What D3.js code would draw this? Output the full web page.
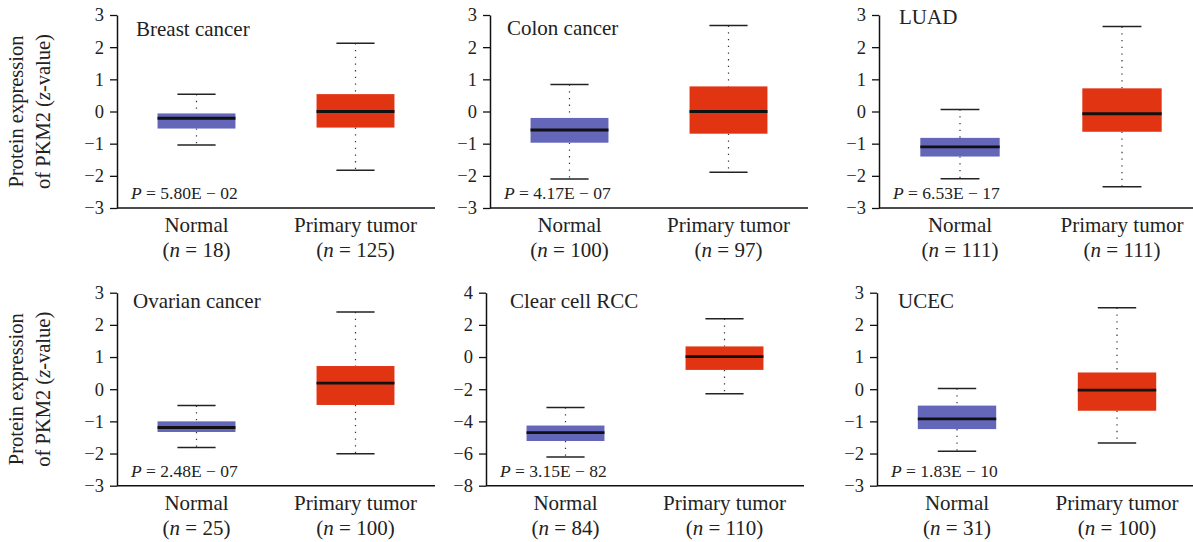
<!DOCTYPE html>
<html lang="en">
<head>
  <meta charset="utf-8">
  <title>PKM2 protein expression</title>
  <script src="https://cdn.jsdelivr.net/npm/d3@7"></script>
  <style>
    body { margin: 0; background: #fff; }
    svg { display: block; font-family: "Liberation Serif", "DejaVu Serif", serif; }
  </style>
</head>
<body>
  <script>
    // values (box = [min, q1, median, q3, max])
    var panelTitles = ["Breast cancer", "Colon cancer", "LUAD", "Ovarian cancer", "Clear cell RCC", "UCEC"];
    var pValues = ["5.80E − 02", "4.17E − 07", "6.53E − 17", "2.48E − 07", "3.15E − 82", "1.83E − 10"];
    var groups = ["Normal", "Primary tumor"];
    var normalN = [18, 100, 111, 25, 84, 31];
    var tumorN = [125, 97, 111, 100, 110, 100];
    var normalStats = [
      [-1.04, -0.53, -0.21, -0.06, 0.54],
      [-2.10, -0.97, -0.575, -0.20, 0.84],
      [-2.09, -1.40, -1.10, -0.82, 0.06],
      [-1.81, -1.33, -1.19, -1.00, -0.51],
      [-6.21, -5.22, -4.70, -4.26, -3.14],
      [-1.93, -1.24, -0.92, -0.51, 0.02]
    ];
    var tumorStats = [
      [-1.83, -0.50, 0.00, 0.54, 2.12],
      [-1.89, -0.69, 0.00, 0.78, 2.67],
      [-2.34, -0.63, -0.07, 0.72, 2.64],
      [-2.01, -0.49, 0.19, 0.72, 2.40],
      [-2.29, -0.80, 0.03, 0.66, 2.38],
      [-1.67, -0.67, -0.03, 0.52, 2.53]
    ];
    var yDomains = [[-3, 3], [-3, 3], [-3, 3], [-3, 3], [-8, 4], [-3, 3]];

    var colors = { "Normal": "#6366b9", "Primary tumor": "#e03413" };

    // plot-area layout of each panel
    var panelLeft = [117, 490, 879, 117, 486, 877];
    var panelWidth = [318, 318, 324, 318, 318, 320];
    var rowTop = [15, 292.7];
    var plotHeight = 193;
    var titleOffset = [[19, 21], [17, 20], [20, 9], [16, 15], [24, 15], [21, 15]];

    var svg = d3.select("body").append("svg")
      .attr("width", 1193)
      .attr("height", 542);

    panelTitles.forEach(function(title, i) {
      var row = Math.floor(i / 3);
      var left = panelLeft[i];
      var top = rowTop[row];
      var bottom = top + plotHeight;

      var y = d3.scaleLinear()
        .domain(yDomains[i])
        .range([bottom, top]);

      var x = d3.scaleBand()
        .domain(groups)
        .range([left, left + panelWidth[i]]);

      var g = svg.append("g");

      // y axis
      var yAxis = g.append("g")
        .attr("transform", "translate(" + left + ",0)")
        .call(d3.axisLeft(y).ticks(6).tickSize(7).tickSizeOuter(0).tickPadding(6));
      yAxis.select(".domain").attr("stroke", "#111").attr("stroke-width", 1.5);
      yAxis.selectAll(".tick line").attr("stroke", "#111").attr("stroke-width", 1.3);
      yAxis.selectAll(".tick text")
        .attr("fill", "#222")
        .attr("font-family", "Liberation Serif")
        .attr("font-size", 18.5);

      // x axis line
      g.append("line")
        .attr("x1", left)
        .attr("x2", left + panelWidth[i])
        .attr("y1", bottom)
        .attr("y2", bottom)
        .attr("stroke", "#111")
        .attr("stroke-width", 1.5);

      var boxes = [
        { group: "Normal", s: normalStats[i], n: normalN[i] },
        { group: "Primary tumor", s: tumorStats[i], n: tumorN[i] }
      ];

      boxes.forEach(function(b) {
        var cx = x(b.group) + x.bandwidth() / 2;
        var bw = x.bandwidth() * 0.49;
        var cw = x.bandwidth() * 0.24;

        // dotted whiskers
        g.append("line")
          .attr("x1", cx).attr("x2", cx)
          .attr("y1", y(b.s[4])).attr("y2", y(b.s[3]))
          .attr("stroke", "#333")
          .attr("stroke-width", 1.2)
          .attr("stroke-dasharray", "1.3,5.4");
        g.append("line")
          .attr("x1", cx).attr("x2", cx)
          .attr("y1", y(b.s[1])).attr("y2", y(b.s[0]))
          .attr("stroke", "#333")
          .attr("stroke-width", 1.2)
          .attr("stroke-dasharray", "1.3,5.4");

        // caps
        [b.s[0], b.s[4]].forEach(function(v) {
          g.append("line")
            .attr("x1", cx - cw / 2).attr("x2", cx + cw / 2)
            .attr("y1", y(v)).attr("y2", y(v))
            .attr("stroke", "#222")
            .attr("stroke-width", 1.5);
        });

        // box
        g.append("rect")
          .attr("x", cx - bw / 2)
          .attr("y", y(b.s[3]))
          .attr("width", bw)
          .attr("height", y(b.s[1]) - y(b.s[3]))
          .attr("fill", colors[b.group]);

        // median
        g.append("line")
          .attr("x1", cx - bw / 2).attr("x2", cx + bw / 2)
          .attr("y1", y(b.s[2])).attr("y2", y(b.s[2]))
          .attr("stroke", "#111")
          .attr("stroke-width", 2.8);

        // category labels
        g.append("text")
          .attr("x", cx)
          .attr("y", bottom + 24)
          .attr("text-anchor", "middle")
          .attr("font-size", 21)
          .attr("fill", "#222")
          .text(b.group);

        var nLabel = g.append("text")
          .attr("x", cx)
          .attr("y", bottom + 49)
          .attr("text-anchor", "middle")
          .attr("font-size", 21)
          .attr("fill", "#222");
        nLabel.append("tspan").text("(");
        nLabel.append("tspan").attr("font-style", "italic").text("n");
        nLabel.append("tspan").text(" = " + b.n + ")");
      });

      // panel title
      g.append("text")
        .attr("x", left + titleOffset[i][0])
        .attr("y", top + titleOffset[i][1])
        .attr("font-size", 21)
        .attr("fill", "#222")
        .text(title);

      // p value
      var pText = g.append("text")
        .attr("x", left + 14)
        .attr("y", bottom - 9)
        .attr("font-size", 17.5)
        .attr("fill", "#222");
      pText.append("tspan").attr("font-style", "italic").text("P");
      pText.append("tspan").text(" = " + pValues[i]);

      // y axis label on the first column
      if (i % 3 === 0) {
        var cy = (top + bottom) / 2;
        var lab = g.append("text")
          .attr("transform", "translate(0," + cy + ") rotate(-90)")
          .attr("text-anchor", "middle")
          .attr("font-size", 20.5)
          .attr("fill", "#222");
        lab.append("tspan").attr("x", 0).attr("y", 23).text("Protein expression");
        var l2 = lab.append("tspan").attr("x", 0).attr("y", 50);
        l2.text("of PKM2 (");
        lab.append("tspan").attr("font-style", "italic").text("z");
        lab.append("tspan").text("-value)");
      }
    });
  </script>
</body>
</html>
